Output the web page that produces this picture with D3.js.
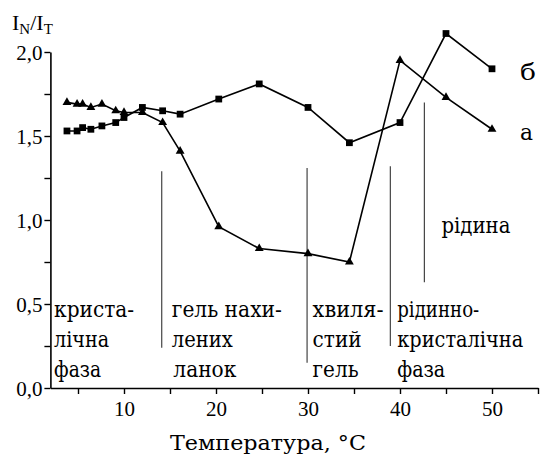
<!DOCTYPE html>
<html>
<head>
<meta charset="utf-8">
<script src="https://cdn.jsdelivr.net/npm/d3@7"></script>
<style>
  html, body { margin: 0; padding: 0; background: #fff; }
  svg { display: block; }
  text { fill: #000; }
  .latin { font-family: 'Liberation Serif', 'Times New Roman', serif; }
  .cyr { font-family: 'DejaVu Serif', serif; font-stretch: condensed; }
</style>
</head>
<body>
<svg id="chart" width="541" height="455"></svg>
<script>
// Temperature of each measurement, °C
const temperatures = [3.8, 4.9, 5.5, 6.4, 7.6, 9.1, 10.0, 12.0, 14.2, 16.1, 20.3, 24.7, 30.0, 34.5, 40.0, 45.0, 50.0];
// Intensity ratio I_N/I_T, series "а" (triangles)
const seriesA = [1.70, 1.69, 1.69, 1.67, 1.69, 1.65, 1.64, 1.64, 1.58, 1.41, 0.96, 0.83, 0.80, 0.75, 1.95, 1.73, 1.54];
// Intensity ratio I_N/I_T, series "б" (squares)
const seriesB = [1.53, 1.53, 1.55, 1.54, 1.56, 1.58, 1.61, 1.67, 1.65, 1.63, 1.72, 1.81, 1.67, 1.46, 1.58, 2.11, 1.90];

const xTickValues = [10, 20, 30, 40, 50];
const yTickValues = [0, 0.5, 1.0, 1.5, 2.0];

// Phase boundaries: temperature, and the span of the marker line in ratio units
const boundaryT = [14.1, 29.9, 38.95, 42.65];
const boundaryLo = [0.24, 0.15, 0.25, 0.63];
const boundaryHi = [1.29, 1.31, 1.32, 1.70];

// Phase names, each a list of lines, anchored at a temperature
const phaseT = [2.4, 15.2, 30.5, 39.7, 44.5];
const phaseLines = [
  ["криста-", "лічна", "фаза"],
  ["гель нахи-", "лених", "ланок"],
  ["хвиля-", "стий", "гель"],
  ["рідинно-", "кристалічна", "фаза"],
  ["рідина"]
];
// Set width of each line of the phase names, px
const phaseWidths = [
  [80, 55, 47],
  [110, 61, 63],
  [71, 49, 46],
  [82, 126, 48],
  [69]
];
const phaseIndent = [
  [0, 0, 0],
  [0, 0, 1.5],
  [0, 0, 0],
  [0, 0, 0],
  [0]
];

const svg = d3.select("#chart");

const x = d3.scaleLinear().domain([2, 55]).range([50.4, 538]);
const y = d3.scaleLinear().domain([0, 2]).range([388, 52]);

// Axes
const xAxis = d3.axisBottom(x)
  .tickValues(d3.range(5, 56, 5))
  .tickSize(6)
  .tickSizeOuter(0)
  .tickFormat(d => xTickValues.includes(d) ? d : "");
const gx = svg.append("g").attr("transform", `translate(0,${y(0)})`).call(xAxis);

const yAxis = d3.axisLeft(y)
  .tickValues(d3.range(0, 2.01, 0.25))
  .tickSize(6)
  .tickSizeOuter(0)
  .tickFormat(d => yTickValues.some(v => Math.abs(v - d) < 1e-6) ? d3.format(".1f")(d).replace(".", ",") : "");
const gy = svg.append("g").attr("transform", `translate(${x(2)},0)`).call(yAxis);

[gx, gy].forEach(g => {
  g.attr("font-family", null).attr("font-size", null);
  g.select(".domain").attr("stroke", "#000").attr("stroke-width", 1.6);
  g.selectAll(".tick line").attr("stroke", "#000").attr("stroke-width", 1.4);
  g.selectAll(".tick text")
    .attr("class", "latin")
    .style("font-size", "21px")
    .attr("fill", "#000");
});
gx.selectAll(".tick text").attr("dy", "0.95em").attr("y", 8);
gy.selectAll(".tick text").attr("x", -8).attr("dy", "0.36em");

// Phase boundary markers
svg.append("g").selectAll("line")
  .data(boundaryT)
  .join("line")
  .attr("x1", d => x(d)).attr("x2", d => x(d))
  .attr("y1", (d, i) => y(boundaryHi[i]))
  .attr("y2", (d, i) => y(boundaryLo[i]))
  .attr("stroke", "#444")
  .attr("stroke-width", 1.2);

// Series lines
const line = d3.line().x(d => x(d[0])).y(d => y(d[1]));
const ptsA = temperatures.map((t, i) => [t, seriesA[i]]);
const ptsB = temperatures.map((t, i) => [t, seriesB[i]]);

[ptsA, ptsB].forEach(pts => {
  svg.append("path")
    .datum(pts)
    .attr("d", line)
    .attr("fill", "none")
    .attr("stroke", "#000")
    .attr("stroke-width", 1.6);
});

// Markers
const tri = d3.symbol().type(d3.symbolTriangle).size(34);
svg.append("g").selectAll("path")
  .data(ptsA)
  .join("path")
  .attr("d", tri)
  .attr("transform", d => `translate(${x(d[0])},${y(d[1])})`)
  .attr("fill", "#000");

const sq = d3.symbol().type(d3.symbolSquare).size(46);
svg.append("g").selectAll("path")
  .data(ptsB)
  .join("path")
  .attr("d", sq)
  .attr("transform", d => `translate(${x(d[0])},${y(d[1])})`)
  .attr("fill", "#000");

// Series labels
svg.append("text").attr("class", "cyr").attr("x", 520).attr("y", 80)
  .style("font-size", "23px").attr("textLength", 16).attr("lengthAdjust", "spacingAndGlyphs").text("б");
svg.append("text").attr("class", "cyr").attr("x", 520).attr("y", 140)
  .style("font-size", "23px").attr("textLength", 13).attr("lengthAdjust", "spacingAndGlyphs").text("а");

// Phase names
const phaseTop = [317, 317, 317, 317, 233];
phaseLines.forEach((lines, i) => {
  lines.forEach((s, j) => {
    svg.append("text")
      .attr("class", "cyr")
      .attr("x", x(phaseT[i]) + phaseIndent[i][j])
      .attr("y", phaseTop[i] + j * 30)
      .style("font-size", "22px")
      .attr("textLength", phaseWidths[i][j])
      .attr("lengthAdjust", "spacingAndGlyphs")
      .text(s);
  });
});

// Axis titles
svg.append("text")
  .attr("class", "cyr")
  .attr("x", 170).attr("y", 450)
  .style("font-size", "21px")
  .attr("textLength", 196)
  .attr("lengthAdjust", "spacingAndGlyphs")
  .text("Температура, °C");

const yt = svg.append("text").attr("class", "latin").attr("x", 12).attr("y", 30).style("font-size", "22px");
yt.append("tspan").text("I");
yt.append("tspan").attr("dy", 4).style("font-size", "15px").text("N");
yt.append("tspan").attr("dy", -4).text("/I");
yt.append("tspan").attr("dy", 4).style("font-size", "15px").text("T");
</script>
</body>
</html>
